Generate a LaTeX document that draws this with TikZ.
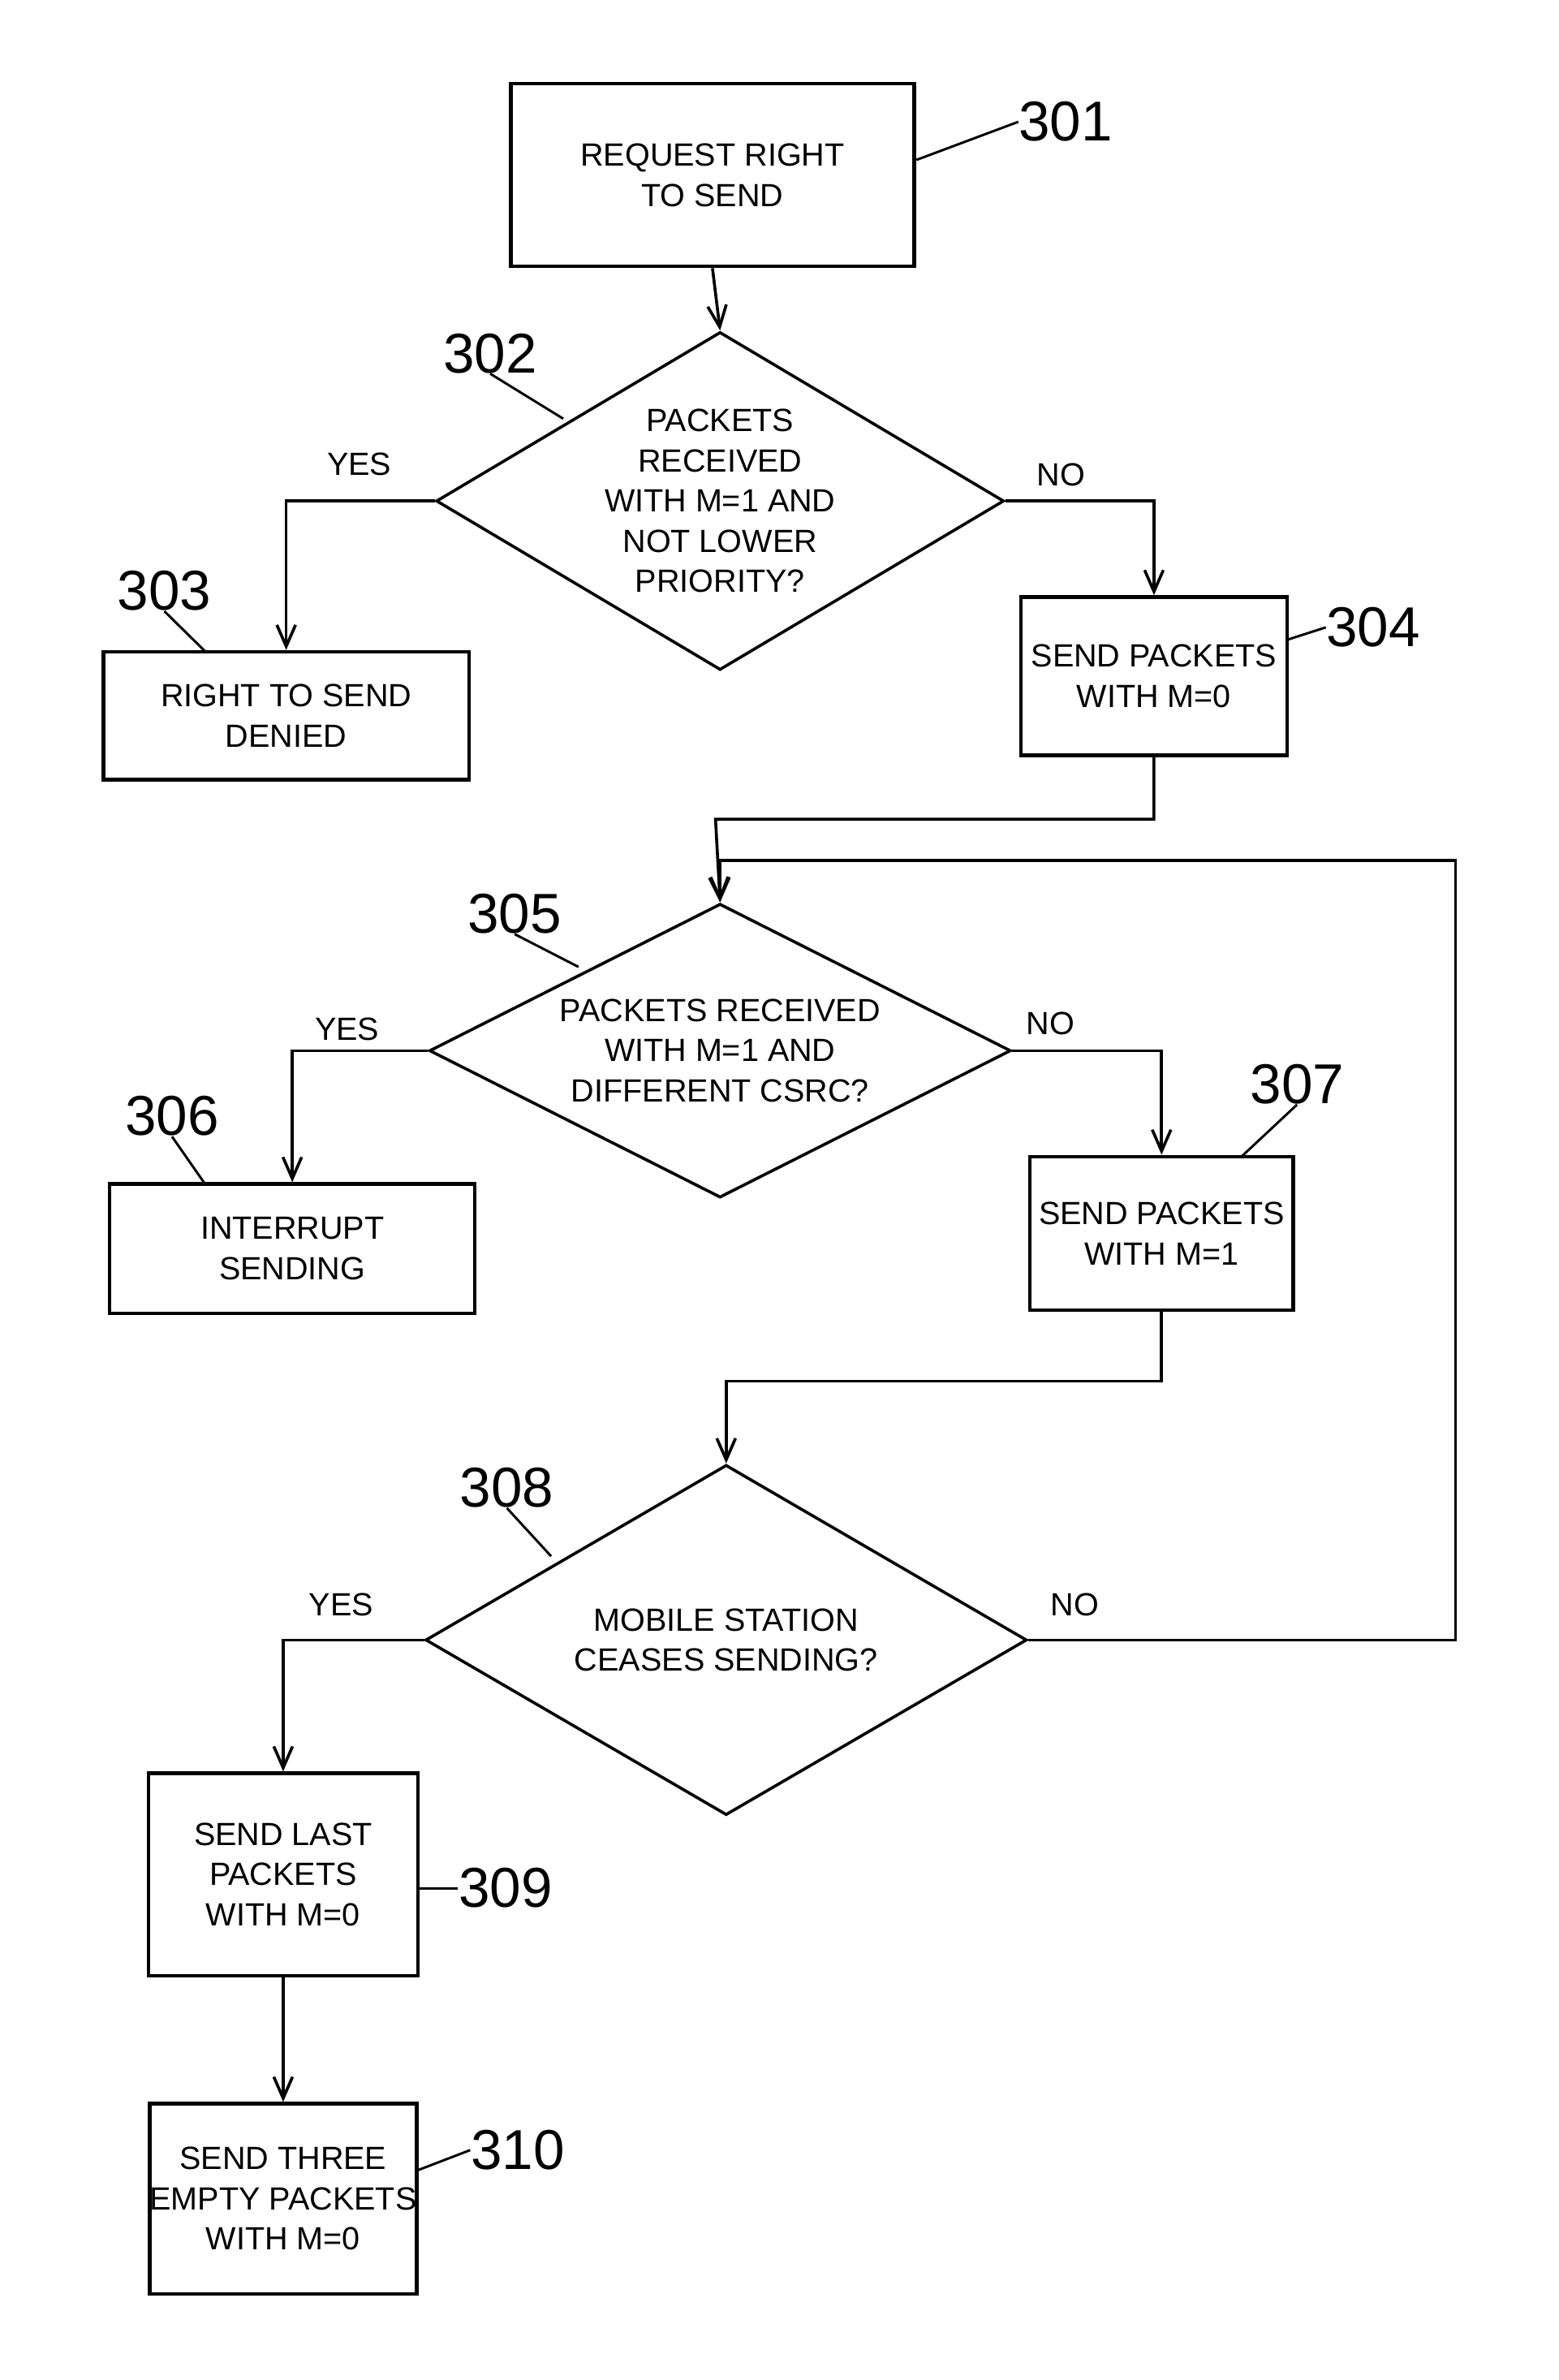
\documentclass[tikz,border=0pt]{standalone}
\usepackage{fontspec}
\setmainfont{Liberation Sans}
\usetikzlibrary{shapes.geometric,arrows.meta}
\tikzset{
  stepbox/.style={draw,line width=1.3pt,align=center,font=\fontsize{12}{15}\selectfont,inner sep=0pt},
  test/.style={draw,diamond,line width=1.1pt,align=center,font=\fontsize{12}{15}\selectfont,inner sep=0pt},
  flow/.style={line width=1.1pt,-{Straight Barb[length=8pt,width=7pt]}},
  lead/.style={line width=0.9pt},
  refnum/.style={font=\fontsize{21}{21}\selectfont,inner sep=0pt},
  answer/.style={font=\fontsize{12}{14}\selectfont}
}
\begin{document}
\begin{tikzpicture}[x=0.02cm,y=-0.02cm]
\useasboundingbox (0,0) rectangle (1024,1563);
% boxes and tests
\node[stepbox,minimum width=265*0.02cm,minimum height=120*0.02cm] (request) at (468,115) {REQUEST RIGHT\\TO SEND};
\node[test,minimum width=373*0.02cm,minimum height=222*0.02cm,aspect=1.68] (prio) at (473,329) {PACKETS\\RECEIVED\\WITH M=1 AND\\NOT LOWER\\PRIORITY?};
\node[stepbox,minimum width=240*0.02cm,minimum height=84*0.02cm] (denied) at (188,470) {RIGHT TO SEND\\DENIED};
\node[stepbox,minimum width=175*0.02cm,minimum height=104*0.02cm] (mzero) at (758,444) {SEND PACKETS\\WITH M=0};
\node[test,minimum width=382*0.02cm,minimum height=193*0.02cm,aspect=1.98] (csrc) at (473,690) {PACKETS RECEIVED\\WITH M=1 AND\\DIFFERENT CSRC?};
\node[stepbox,minimum width=240*0.02cm,minimum height=85*0.02cm] (interrupt) at (192,820) {INTERRUPT\\SENDING};
\node[stepbox,minimum width=173*0.02cm,minimum height=101*0.02cm] (mone) at (763,810) {SEND PACKETS\\WITH M=1};
\node[test,minimum width=395*0.02cm,minimum height=230*0.02cm,aspect=1.72] (ceases) at (477,1077) {MOBILE STATION\\CEASES SENDING?};
\node[stepbox,minimum width=177*0.02cm,minimum height=133*0.02cm] (last) at (186,1231) {SEND LAST\\PACKETS\\WITH M=0};
\node[stepbox,minimum width=175*0.02cm,minimum height=125*0.02cm] (empty) at (186,1444) {SEND THREE\\EMPTY PACKETS\\WITH M=0};
% connectors
\draw[flow] (request.south) -- (prio.north);
\draw[flow] (prio.west) -| (denied.north);
\draw[flow] (prio.east) -| (mzero.north);
\coordinate (j1) at (470,538);
\draw[flow] (mzero.south) |- (j1) -- (csrc.north);
\draw[flow] (csrc.west) -| (interrupt.north);
\draw[flow] (csrc.east) -| (mone.north);
\coordinate (j2) at (477,907);
\draw[flow] (mone.south) |- (j2) -- (ceases.north);
\draw[flow] (ceases.west) -| (last.north);
\draw[flow] (last.south) -- (empty.north);
\coordinate (loop) at (956,565);
\draw[flow] (ceases.east) -| (loop) -- (473,565) -- (csrc.north);
% answers
\node[answer] at (236,305) {YES};
\node[answer] at (697,312) {NO};
\node[answer] at (228,676) {YES};
\node[answer] at (690,672) {NO};
\node[answer] at (224,1054) {YES};
\node[answer] at (706,1054) {NO};
% reference numbers
\node[refnum] (n301) at (700,80) {301};
\draw[lead] (602,105) -- (n301.west);
\node[refnum] (n302) at (322,232) {302};
\draw[lead] (370,275) -- (n302.south);
\node[refnum] (n303) at (108,388) {303};
\draw[lead] (135,428) -- (n303.south);
\node[refnum] (n304) at (902,412) {304};
\draw[lead] (846,420) -- (n304.west);
\node[refnum] (n305) at (338,600) {305};
\draw[lead] (380,635) -- (n305.south);
\node[refnum] (n306) at (113,733) {306};
\draw[lead] (135,778) -- (n306.south);
\node[refnum] (n307) at (852,712) {307};
\draw[lead] (815,760) -- (n307.south);
\node[refnum] (n308) at (333,977) {308};
\draw[lead] (362,1022) -- (n308.south);
\node[refnum] (n309) at (332,1240) {309};
\draw[lead] (275,1240) -- (n309.west);
\node[refnum] (n310) at (340,1412) {310};
\draw[lead] (275,1425) -- (n310.west);
\end{tikzpicture}
\end{document}
